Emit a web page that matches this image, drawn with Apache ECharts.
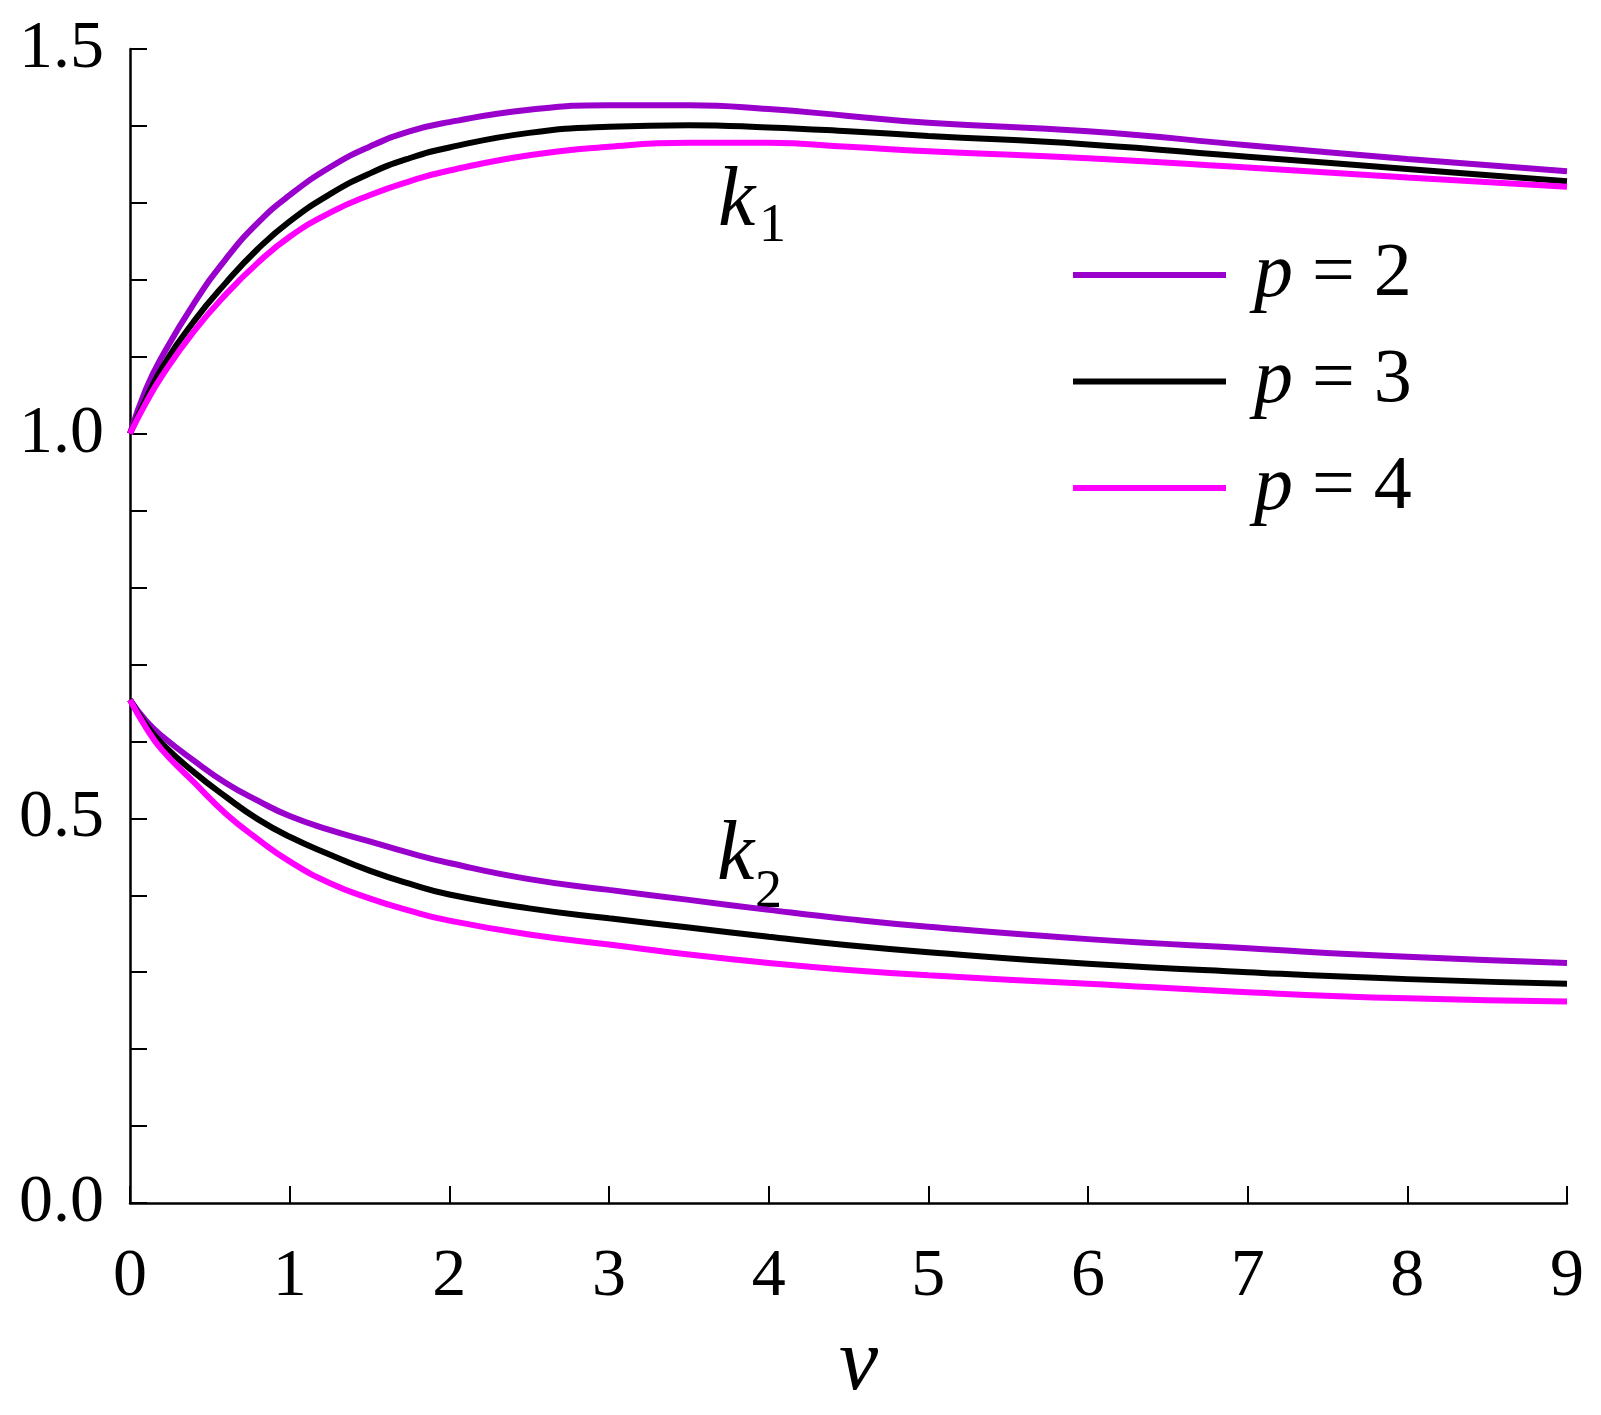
<!DOCTYPE html>
<html>
<head>
<meta charset="utf-8">
<script src="https://cdn.jsdelivr.net/npm/echarts@6/dist/echarts.min.js"></script>
<style>
html,body{margin:0;padding:0;background:#fff;overflow:hidden;}
#c{width:1601px;height:1415px;}
</style>
</head>
<body>
<div id="c"></div>
<script>
// ---- data ----
const nu = [0, 0.1, 0.2, 0.4, 0.6, 0.8, 1.0, 1.25, 1.5, 1.75, 2.0, 2.5, 3.0, 3.5, 4.0, 4.5, 5, 6, 7, 8, 9];
const k1_p2 = [1.0, 1.058, 1.100, 1.169, 1.227, 1.274, 1.310, 1.346, 1.373, 1.393, 1.405, 1.421, 1.427, 1.427, 1.422, 1.413, 1.404, 1.393, 1.375, 1.357, 1.341];
const k1_p3 = [1.0, 1.045, 1.085, 1.146, 1.196, 1.240, 1.276, 1.311, 1.338, 1.358, 1.372, 1.391, 1.399, 1.401, 1.398, 1.393, 1.387, 1.376, 1.360, 1.344, 1.328];
const k1_p4 = [1.0, 1.040, 1.075, 1.133, 1.181, 1.222, 1.256, 1.287, 1.310, 1.328, 1.342, 1.362, 1.373, 1.378, 1.378, 1.373, 1.367, 1.358, 1.346, 1.333, 1.321];
const k2_p2 = [0.654, 0.627, 0.607, 0.575, 0.546, 0.523, 0.503, 0.485, 0.470, 0.455, 0.442, 0.421, 0.407, 0.394, 0.381, 0.369, 0.359, 0.343, 0.331, 0.320, 0.312];
const k2_p3 = [0.654, 0.622, 0.597, 0.560, 0.528, 0.499, 0.476, 0.453, 0.432, 0.415, 0.401, 0.383, 0.370, 0.358, 0.346, 0.335, 0.326, 0.311, 0.300, 0.291, 0.285];
const k2_p4 = [0.654, 0.618, 0.589, 0.547, 0.506, 0.473, 0.444, 0.416, 0.396, 0.380, 0.367, 0.349, 0.336, 0.323, 0.312, 0.303, 0.296, 0.285, 0.274, 0.266, 0.262];
const seriesNames = ['p = 2', 'p = 3', 'p = 4'];
const xTickLabels = ['0','1','2','3','4','5','6','7','8','9'];
const yTickLabels = {'0.0':'0.0', '0.5':'0.5', '1.0':'1.0', '1.5':'1.5'};
const colors = ['#9900CC', '#000000', '#FF00FF'];

const zip = arr => nu.map((x, i) => [x, arr[i]]);
const FONT = '"Liberation Serif", "DejaVu Serif", serif';

function mkSeries(name, arr, color) {
  return {
    type: 'line', name: name, data: zip(arr), showSymbol: false,
    smooth: 0.5,
    lineStyle: {color: color, width: 6}, itemStyle: {color: color},
    emphasis: {disabled: true}
  };
}

const chart = echarts.init(document.getElementById('c'), null, {renderer: 'canvas'});
const axisCommon = {
  axisLine: {show: true, lineStyle: {color: '#000', width: 2.5}},
  axisTick: {show: true, inside: true, length: 17, lineStyle: {color: '#000', width: 2}},
  splitLine: {show: false}
};
chart.setOption({
  animation: false,
  backgroundColor: '#fff',
  grid: {left: 130, top: 49, right: 34, bottom: 212, containLabel: false, outerBoundsMode: 'none'},
  xAxis: Object.assign({
    type: 'value', min: 0, max: 9, interval: 1,
    name: 'ν', nameLocation: 'middle', nameGap: 119,
    nameTextStyle: {fontFamily: FONT, fontStyle: 'italic', fontSize: 88, color: '#000', padding: [0, 0, 0, 20]},
    axisLabel: {fontFamily: FONT, fontSize: 68, color: '#000', margin: 40,
      formatter: v => xTickLabels[Math.round(v)] ?? ''}
  }, axisCommon),
  yAxis: Object.assign({
    type: 'value', min: 0, max: 1.5, interval: 0.1,
    axisLabel: {fontFamily: FONT, fontSize: 68, color: '#000', margin: 26,
      formatter: v => yTickLabels[v.toFixed(1)] ?? ''}
  }, axisCommon),
  legend: {
    data: seriesNames, orient: 'vertical', left: 1068, top: 231,
    itemWidth: 153, itemHeight: 6, itemGap: 28.5, icon: 'rect',
    selectedMode: false,
    textStyle: {fontFamily: FONT, fontSize: 74, color: '#000', lineHeight: 70, padding: [0, 0, 0, 23],
      rich: {i: {fontFamily: FONT, fontStyle: 'italic', fontSize: 78, lineHeight: 70, color: '#000'},
             n: {fontFamily: FONT, fontSize: 76, lineHeight: 70, color: '#000'}}},
    formatter: name => '{i|p}{n| = ' + name.split('= ')[1] + '}'
  },
  graphic: [
    {type: 'text', left: 718, top: 161, style: {text: 'k', font: 'italic 84px ' + FONT, fill: '#000'}},
    {type: 'text', left: 759, top: 200, style: {text: '1', font: '54px ' + FONT, fill: '#000'}},
    {type: 'text', left: 717, top: 815, style: {text: 'k', font: 'italic 84px ' + FONT, fill: '#000'}},
    {type: 'text', left: 755, top: 866, style: {text: '2', font: '54px ' + FONT, fill: '#000'}}
  ],
  series: [
    mkSeries(seriesNames[0], k1_p2, colors[0]),
    mkSeries(seriesNames[1], k1_p3, colors[1]),
    mkSeries(seriesNames[2], k1_p4, colors[2]),
    mkSeries(seriesNames[0], k2_p2, colors[0]),
    mkSeries(seriesNames[1], k2_p3, colors[1]),
    mkSeries(seriesNames[2], k2_p4, colors[2])
  ]
});
</script>
</body>
</html>
